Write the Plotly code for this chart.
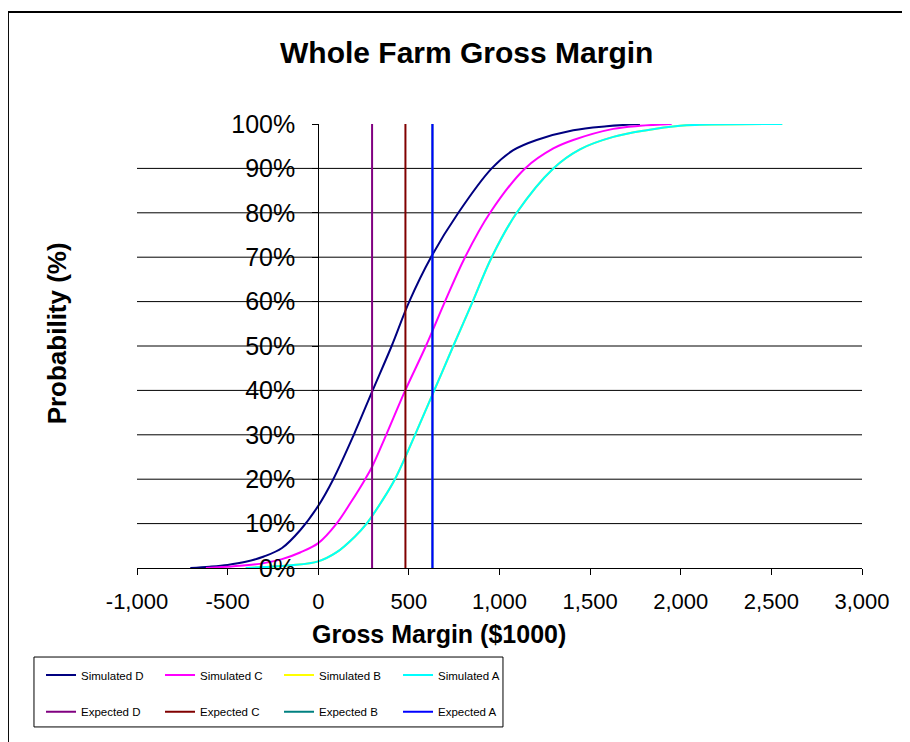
import plotly.graph_objects as go

# ---- data ----
SIM_D_X = [-706, -600, -500, -400, -300, -200, -100, 0, 83, 196, 300, 405, 502, 622, 773, 957, 1076, 1205, 1407, 1591, 1775]
SIM_D_P = [0.0, 0.003, 0.007, 0.014, 0.026, 0.045, 0.085, 0.14, 0.20, 0.30, 0.40, 0.50, 0.60, 0.70, 0.80, 0.90, 0.941, 0.964, 0.986, 0.995, 1.0]

SIM_C_X = [-620, -500, -400, -300, -200, -100, 0, 101, 180, 259, 297, 375, 480, 594, 699, 810, 948, 1141, 1297, 1407, 1628, 1775, 1950]
SIM_C_P = [0.0, 0.003, 0.006, 0.011, 0.02, 0.035, 0.056, 0.10, 0.148, 0.20, 0.228, 0.30, 0.40, 0.50, 0.60, 0.70, 0.80, 0.90, 0.945, 0.964, 0.989, 0.996, 1.0]

SIM_B_X = [-400, -300, -150, 0, 100, 200, 267, 350, 423, 534, 640, 745, 852, 957, 1095, 1297, 1444, 1628, 1812, 1996, 2080, 2560]
SIM_B_P = [0.0, 0.002, 0.006, 0.015, 0.035, 0.07, 0.10, 0.15, 0.20, 0.30, 0.40, 0.50, 0.60, 0.70, 0.80, 0.90, 0.943, 0.971, 0.986, 0.996, 0.998, 1.0]

SIM_A_X = [-400, -300, -150, 0, 100, 200, 267, 350, 423, 534, 640, 745, 852, 957, 1095, 1297, 1444, 1628, 1812, 1996, 2080, 2560]
SIM_A_P = [0.0, 0.002, 0.006, 0.015, 0.035, 0.07, 0.10, 0.15, 0.20, 0.30, 0.40, 0.50, 0.60, 0.70, 0.80, 0.90, 0.943, 0.971, 0.986, 0.996, 0.998, 1.0]

EXPECTED = {"D": 297, "C": 481, "B": 630, "A": 630}

SIM_NAMES = ["Simulated D", "Simulated C", "Simulated B", "Simulated A"]
EXP_NAMES = ["Expected D", "Expected C", "Expected B", "Expected A"]
SIM_COLORS = ["#000080", "#FF00FF", "#FFFF00", "#00FFFF"]
EXP_COLORS = ["#800080", "#800000", "#008080", "#0000FF"]

X_TICKS = [-1000, -500, 0, 500, 1000, 1500, 2000, 2500, 3000]
X_TICK_TEXT = ["-1,000", "-500", "0", "500", "1,000", "1,500", "2,000", "2,500", "3,000"]
Y_TICKS = [0, 0.1, 0.2, 0.3, 0.4, 0.5, 0.6, 0.7, 0.8, 0.9, 1.0]
Y_TICK_TEXT = ["0%", "10%", "20%", "30%", "40%", "50%", "60%", "70%", "80%", "90%", "100%"]
GRID_LEVELS = [0.1, 0.2, 0.3, 0.4, 0.5, 0.6, 0.7, 0.8, 0.9]

FONT = "Liberation Sans, Arial, sans-serif"

fig = go.Figure()

sims = [(SIM_D_X, SIM_D_P), (SIM_C_X, SIM_C_P), (SIM_B_X, SIM_B_P), (SIM_A_X, SIM_A_P)]
for (xs, ps), name, col in zip(sims, SIM_NAMES, SIM_COLORS):
    fig.add_trace(go.Scatter(x=xs, y=ps, mode="lines", name=name,
                             line=dict(color=col, width=2, shape="spline", smoothing=1.0),
                             legend="legend"))

for key, name, col in zip(["D", "C", "B", "A"], EXP_NAMES, EXP_COLORS):
    v = EXPECTED[key]
    fig.add_trace(go.Scatter(x=[v, v], y=[0, 1], mode="lines", name=name,
                             line=dict(color=col, width=2), legend="legend2"))

shapes = []
for g in GRID_LEVELS:
    shapes.append(dict(type="line", xref="paper", yref="y", x0=0, x1=1, y0=g, y1=g,
                       line=dict(color="#000000", width=1), layer="below"))
# legend box
shapes.append(dict(type="rect", xref="paper", yref="paper", x0=-0.1421, x1=0.5048, y0=-0.358, y1=-0.2005,
                   line=dict(color="#000000", width=1)))
# outer chart border
shapes.append(dict(type="rect", xref="paper", yref="paper", x0=-0.178, x1=1.10, y0=-0.45, y1=1.252,
                   line=dict(color="#000000", width=2)))

fig.update_layout(
    width=910, height=742,
    margin=dict(l=129, r=56, t=116, b=182),
    paper_bgcolor="white", plot_bgcolor="white",
    font=dict(family=FONT, color="#000000"),
    showlegend=True,
    shapes=shapes,
    xaxis=dict(range=[-1000, 3000], tickvals=X_TICKS, ticktext=X_TICK_TEXT,
               showgrid=False, zeroline=False, showline=True, linecolor="#000000", linewidth=1,
               ticks="outside", ticklen=6, tickcolor="#000000", tickfont=dict(size=22),
               ticklabelstandoff=8),
    yaxis=dict(range=[0, 1], tickvals=Y_TICKS, ticktext=Y_TICK_TEXT,
               anchor="free", position=0.25,
               showgrid=False, zeroline=False, showline=True, linecolor="#000000", linewidth=1,
               ticks="outside", ticklen=6, tickcolor="#000000", tickfont=dict(size=25),
               ticklabelstandoff=12),
    legend=dict(orientation="h", x=-0.1324, xanchor="left", y=-0.241, yanchor="middle",
                font=dict(size=11.5), entrywidth=74, entrywidthmode="pixels",
                bgcolor="rgba(0,0,0,0)", borderwidth=0, itemclick=False),
    legend2=dict(orientation="h", x=-0.1324, xanchor="left", y=-0.324, yanchor="middle",
                 font=dict(size=11.5), entrywidth=74, entrywidthmode="pixels",
                 bgcolor="rgba(0,0,0,0)", borderwidth=0, itemclick=False),
    annotations=[
        dict(text="<b>Whole Farm Gross Margin</b>", xref="paper", yref="paper", x=0.4538, y=1.162,
             showarrow=False, font=dict(size=30), xanchor="center", yanchor="middle"),
        dict(text="<b>Gross Margin ($1000)</b>", xref="paper", yref="paper", x=0.4166, y=-0.1486,
             showarrow=False, font=dict(size=25), xanchor="center", yanchor="middle"),
        dict(text="<b>Probability (%)</b>", xref="paper", yref="paper", x=-0.110, y=0.529,
             showarrow=False, font=dict(size=26), textangle=-90, xanchor="center", yanchor="middle"),
    ],
)

fig.write_html("out.html")
